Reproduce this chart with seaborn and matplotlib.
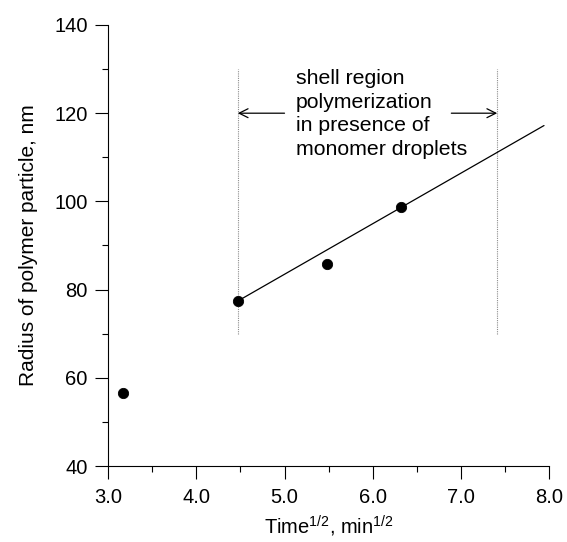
import matplotlib
matplotlib.use("Agg")
import matplotlib.pyplot as plt
import seaborn as sns
import numpy as np
import pandas as pd

# Data
time_sqrt = [3.17, 4.47, 5.48, 6.32]
radius = [56.5, 77.4, 85.8, 98.8]
fit_x = [4.47, 7.94]
fit_y = [77.4, 117.2]
region_x = [4.47, 7.41]
region_y = [70, 130]
x_ticks = [3.0, 4.0, 5.0, 6.0, 7.0, 8.0]
y_ticks = [40, 60, 80, 100, 120, 140]
annotation = "shell region\npolymerization\nin presence of\nmonomer droplets"

sns.set_style("ticks")
plt.rcParams['font.family'] = ['Liberation Sans', 'DejaVu Sans']
plt.rcParams['mathtext.fontset'] = 'custom'
plt.rcParams['mathtext.rm'] = 'Liberation Sans'
plt.rcParams['mathtext.it'] = 'Liberation Sans'
plt.rcParams['mathtext.bf'] = 'Liberation Sans:bold'
plt.rcParams['text.color'] = 'black'
plt.rcParams['axes.labelcolor'] = 'black'
plt.rcParams['xtick.color'] = 'black'
plt.rcParams['ytick.color'] = 'black'

fig = plt.figure(figsize=(5.67, 5.42), dpi=100)
ax = fig.add_axes([108/567, 76/542, (549.3-108)/567, (466-25)/542])

df = pd.DataFrame({"t": time_sqrt, "r": radius})
fit = pd.DataFrame({"t": fit_x, "r": fit_y})

ax.vlines(region_x, region_y[0], region_y[1], colors='0.55', linestyles=(0, (1, 1)), linewidth=0.8)
sns.lineplot(data=fit, x="t", y="r", ax=ax, color='black', linewidth=0.9)
sns.scatterplot(data=df, x="t", y="r", ax=ax, color='black', s=55, edgecolor='black', zorder=5)

ax.annotate("", xy=(region_x[0], 120), xytext=(5.0, 120),
            arrowprops=dict(arrowstyle='->', color='black', lw=0.9, shrinkA=0, shrinkB=0,
                            mutation_scale=16))
ax.annotate("", xy=(region_x[1], 120), xytext=(6.89, 120),
            arrowprops=dict(arrowstyle='->', color='black', lw=0.9, shrinkA=0, shrinkB=0,
                            mutation_scale=16))
ax.text(5.13, 130.0, annotation, fontsize=15.3, va='top', ha='left', linespacing=1.3,
        color='black')

ax.set_xlim(3.0, 8.0)
ax.set_ylim(40, 140)
ax.set_xticks(x_ticks)
ax.set_xticklabels([f"{v:.1f}" for v in x_ticks])
ax.set_yticks(y_ticks)
ax.set_yticklabels([str(v) for v in y_ticks])
ax.set_xticks(np.arange(3.5, 8.0, 1.0), minor=True)
ax.set_yticks(np.arange(50, 140, 20), minor=True)
ax.tick_params(axis='both', which='major', length=9.5, width=0.8, labelsize=14.5, pad=5,
               color='black', labelcolor='black')
ax.tick_params(axis='both', which='minor', length=4.5, width=0.8, color='black')
ax.tick_params(axis='x', which='major', pad=6)

ax.set_xlabel(r"Time$^{\mathrm{1/2}}$, min$^{\mathrm{1/2}}$", fontsize=14.5, labelpad=5, color='black')
ax.set_ylabel("Radius of polymer particle, nm", fontsize=15, labelpad=12, color='black')

for s in ['top', 'right']:
    ax.spines[s].set_visible(False)
for s in ['left', 'bottom']:
    ax.spines[s].set_linewidth(0.8)
    ax.spines[s].set_color('black')

fig.savefig("out.png", dpi=100)
